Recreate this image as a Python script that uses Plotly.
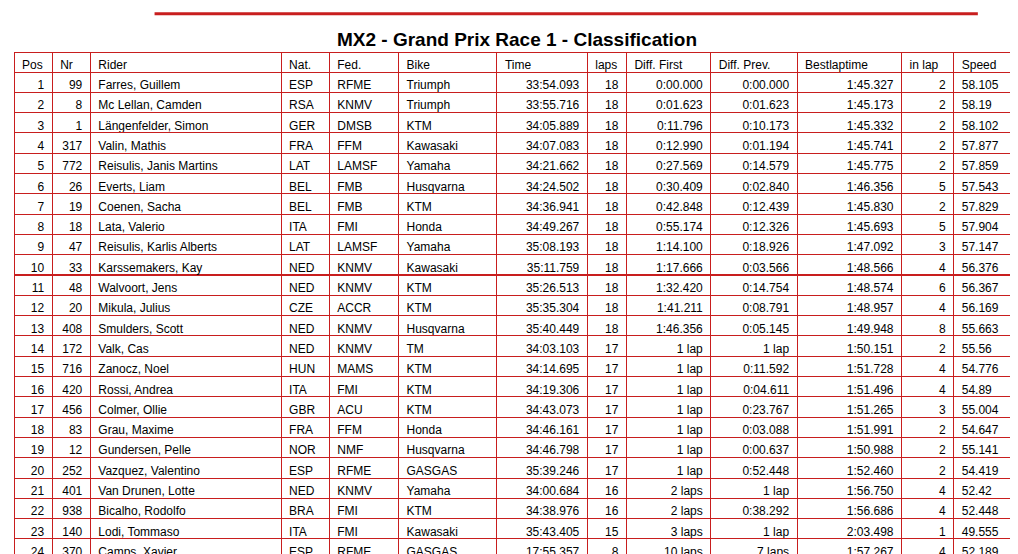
import plotly.graph_objects as go

pos = list(range(1, 25))
nr = [99, 8, 1, 317, 772, 26, 19, 18, 47, 33, 48, 20, 408, 172, 716, 420, 456, 83, 12, 252, 401, 938, 140, 370]
riders = ["Farres, Guillem", "Mc Lellan, Camden", "Längenfelder, Simon", "Valin, Mathis",
          "Reisulis, Janis Martins", "Everts, Liam", "Coenen, Sacha", "Lata, Valerio",
          "Reisulis, Karlis Alberts", "Karssemakers, Kay", "Walvoort, Jens", "Mikula, Julius",
          "Smulders, Scott", "Valk, Cas", "Zanocz, Noel", "Rossi, Andrea", "Colmer, Ollie",
          "Grau, Maxime", "Gundersen, Pelle", "Vazquez, Valentino", "Van Drunen, Lotte",
          "Bicalho, Rodolfo", "Lodi, Tommaso", "Camps, Xavier"]
nat = ["ESP", "RSA", "GER", "FRA", "LAT", "BEL", "BEL", "ITA", "LAT", "NED", "NED", "CZE",
       "NED", "NED", "HUN", "ITA", "GBR", "FRA", "NOR", "ESP", "NED", "BRA", "ITA", "ESP"]
fed = ["RFME", "KNMV", "DMSB", "FFM", "LAMSF", "FMB", "FMB", "FMI", "LAMSF", "KNMV", "KNMV", "ACCR",
       "KNMV", "KNMV", "MAMS", "FMI", "ACU", "FFM", "NMF", "RFME", "KNMV", "FMI", "FMI", "RFME"]
bike = ["Triumph", "Triumph", "KTM", "Kawasaki", "Yamaha", "Husqvarna", "KTM", "Honda", "Yamaha",
        "Kawasaki", "KTM", "KTM", "Husqvarna", "TM", "KTM", "KTM", "KTM", "Honda", "Husqvarna",
        "GASGAS", "Yamaha", "KTM", "Kawasaki", "GASGAS"]
times = ["33:54.093", "33:55.716", "34:05.889", "34:07.083", "34:21.662", "34:24.502", "34:36.941",
         "34:49.267", "35:08.193", "35:11.759", "35:26.513", "35:35.304", "35:40.449", "34:03.103",
         "34:14.695", "34:19.306", "34:43.073", "34:46.161", "34:46.798", "35:39.246", "34:00.684",
         "34:38.976", "35:43.405", "17:55.357"]
laps = [18] * 13 + [17] * 7 + [16, 16, 15, 8]
diff_first = ["0:00.000", "0:01.623", "0:11.796", "0:12.990", "0:27.569", "0:30.409", "0:42.848",
              "0:55.174", "1:14.100", "1:17.666", "1:32.420", "1:41.211", "1:46.356", "1 lap",
              "1 lap", "1 lap", "1 lap", "1 lap", "1 lap", "1 lap", "2 laps", "2 laps", "3 laps",
              "10 laps"]
diff_prev = ["0:00.000", "0:01.623", "0:10.173", "0:01.194", "0:14.579", "0:02.840", "0:12.439",
             "0:12.326", "0:18.926", "0:03.566", "0:14.754", "0:08.791", "0:05.145", "1 lap",
             "0:11.592", "0:04.611", "0:23.767", "0:03.088", "0:00.637", "0:52.448", "1 lap",
             "0:38.292", "1 lap", "7 laps"]
best = ["1:45.327", "1:45.173", "1:45.332", "1:45.741", "1:45.775", "1:46.356", "1:45.830",
        "1:45.693", "1:47.092", "1:48.566", "1:48.574", "1:48.957", "1:49.948", "1:50.151",
        "1:51.728", "1:51.496", "1:51.265", "1:51.991", "1:50.988", "1:52.460", "1:56.750",
        "1:56.686", "2:03.498", "1:57.267"]
in_lap = [2, 2, 2, 2, 2, 5, 2, 5, 3, 4, 6, 4, 8, 2, 4, 4, 3, 2, 2, 2, 4, 4, 1, 4]
speed = ["58.105", "58.19", "58.102", "57.877", "57.859", "57.543", "57.829", "57.904", "57.147",
         "56.376", "56.367", "56.169", "55.663", "55.56", "54.776", "54.89", "55.004", "54.647",
         "55.141", "54.419", "52.42", "52.448", "49.555", "52.189"]

headers = ["Pos", "Nr", "Rider", "Nat.", "Fed.", "Bike", "Time", "laps", "Diff. First",
           "Diff. Prev.", "Bestlaptime", "in lap", "Speed"]
widths = [38, 38, 190, 48, 69, 98, 90, 39, 84, 86, 104, 52, 64]
aligns = ["right", "right", "left", "left", "left", "left", "right", "right", "right", "right",
          "right", "right", "left"]

font = dict(family="Liberation Sans, Arial", size=12, color="black")

fig = go.Figure(go.Table(
    columnwidth=widths,
    header=dict(values=headers, align="left", height=20, fill_color="white",
                line=dict(color="#c81e1e", width=1), font=font),
    cells=dict(values=[pos, nr, riders, nat, fed, bike, times, laps, diff_first,
                       diff_prev, best, in_lap, speed],
               align=aligns, height=20.3, fill_color="white",
               line=dict(color="#c81e1e", width=1), font=font),
    domain=dict(x=[0, 1], y=[0, 1]),
))
fig.update_layout(
    title=dict(text="<b>MX2 - Grand Prix Race 1 - Classification</b>", x=0.5, y=0.955,
               xanchor="center", font=dict(family="Liberation Sans, Arial", size=19, color="black")),
    width=1018, height=554,
    margin=dict(l=6, r=8, t=44, b=0),
    paper_bgcolor="white",
    shapes=[dict(type="line", xref="paper", yref="paper", x0=0.14, x1=0.96, y0=1.075, y1=1.075,
                 line=dict(color="#c81e1e", width=3))],
)
fig.write_html("out.html")
